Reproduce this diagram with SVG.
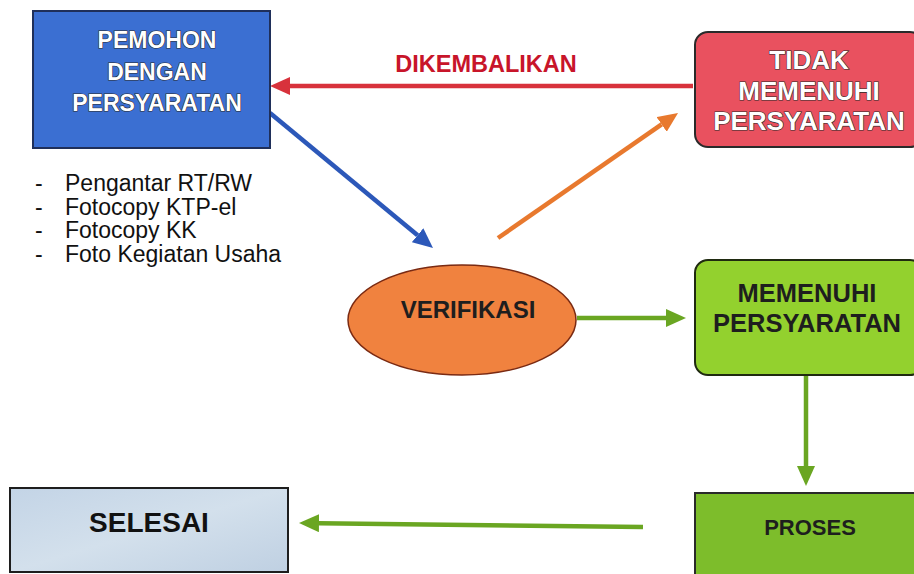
<svg xmlns="http://www.w3.org/2000/svg" width="914" height="574" viewBox="0 0 914 574">
  <style>
    .lbl { font-family: "Liberation Sans", Arial, sans-serif; font-weight: bold; text-anchor: middle; }
    .wt { fill: #ffffff; stroke: #2a2a2a; stroke-width: 1.2; paint-order: stroke; }
    .dk { fill: #1e1e1e; }
    .list { font-family: "Liberation Sans", Arial, sans-serif; font-size: 23px; fill: #111; }
    .conn { fill: none; stroke-width: 4.5; stroke-linecap: butt; }
  </style>
  <defs>
    <linearGradient id="gSel" x1="0" y1="0" x2="1" y2="1">
      <stop offset="0" stop-color="#c3d4e6"/>
      <stop offset="0.5" stop-color="#d3e0ec"/>
      <stop offset="1" stop-color="#bfd0e2"/>
    </linearGradient>
    <marker id="mRed" markerUnits="userSpaceOnUse" markerWidth="21" markerHeight="18" refX="0" refY="9" orient="auto">
      <path d="M0,0 L20,9 L0,18 z" fill="#d8323c"/>
    </marker>
    <marker id="mBlue" markerUnits="userSpaceOnUse" markerWidth="21" markerHeight="18" refX="0" refY="9" orient="auto">
      <path d="M0,0 L20,9 L0,18 z" fill="#2c58b9"/>
    </marker>
    <marker id="mOrange" markerUnits="userSpaceOnUse" markerWidth="21" markerHeight="18" refX="0" refY="9" orient="auto">
      <path d="M0,0 L20,9 L0,18 z" fill="#e8792e"/>
    </marker>
    <marker id="mGreen" markerUnits="userSpaceOnUse" markerWidth="21" markerHeight="18" refX="0" refY="9" orient="auto">
      <path d="M0,0 L20,9 L0,18 z" fill="#6aa622"/>
    </marker>
  </defs>
  <rect x="0" y="0" width="914" height="574" fill="#ffffff"/>

  <g id="connectors">
    <line class="conn" x1="693" y1="86" x2="290" y2="86" stroke="#d8323c" marker-end="url(#mRed)"/>
    <line class="conn" x1="270" y1="113" x2="417.6" y2="235.2" stroke="#2c58b9" marker-end="url(#mBlue)"/>
    <line class="conn" x1="498" y1="238" x2="661.6" y2="124.4" stroke="#e8792e" stroke-linecap="round" marker-end="url(#mOrange)"/>
    <line class="conn" x1="577" y1="318" x2="666" y2="318" stroke="#6aa622" marker-end="url(#mGreen)"/>
    <line class="conn" x1="806" y1="375" x2="806" y2="466" stroke="#6aa622" marker-end="url(#mGreen)"/>
    <line class="conn" x1="643" y1="527" x2="319" y2="523.2" stroke="#6aa622" marker-end="url(#mGreen)"/>
  </g>

  <g id="label-dikembalikan">
    <text class="lbl" x="486" y="72" font-size="23.5" fill="#c8152a">DIKEMBALIKAN</text>
  </g>

  <g id="pemohon">
    <rect x="33" y="11" width="237" height="137" fill="#3b6fd2" stroke="#1f2f5a" stroke-width="2"/>
    <text class="lbl wt" font-size="23"><tspan x="157" y="48">PEMOHON</tspan><tspan x="157" y="80">DENGAN</tspan><tspan x="157" y="111">PERSYARATAN</tspan></text>
  </g>

  <g id="persyaratan-list">
    <text class="list" x="35" y="191">-</text>
    <text class="list" x="65" y="191">Pengantar RT/RW</text>
    <text class="list" x="35" y="214.5">-</text>
    <text class="list" x="65" y="214.5">Fotocopy KTP-el</text>
    <text class="list" x="35" y="238">-</text>
    <text class="list" x="65" y="238">Fotocopy KK</text>
    <text class="list" x="35" y="262">-</text>
    <text class="list" x="65" y="262">Foto Kegiatan Usaha</text>
  </g>

  <g id="tidak-memenuhi">
    <rect x="695" y="32" width="228" height="115" rx="13" fill="#e9515f" stroke="#2a2a2a" stroke-width="2"/>
    <text class="lbl wt" font-size="26"><tspan x="809" y="69">TIDAK</tspan><tspan x="809" y="100">MEMENUHI</tspan><tspan x="809" y="130">PERSYARATAN</tspan></text>
  </g>

  <g id="verifikasi">
    <ellipse cx="462" cy="320" rx="114" ry="55" fill="#f0823f" stroke="#7a2a12" stroke-width="1.5"/>
    <text class="lbl dk" x="468" y="318" font-size="24">VERIFIKASI</text>
  </g>

  <g id="memenuhi">
    <rect x="695" y="260" width="228" height="115" rx="13" fill="#93d12e" stroke="#1f2a10" stroke-width="2"/>
    <text class="lbl dk" font-size="25.5"><tspan x="807" y="302">MEMENUHI</tspan><tspan x="807" y="332">PERSYARATAN</tspan></text>
  </g>

  <g id="proses">
    <rect x="695" y="493" width="230" height="90" fill="#7dbd2b" stroke="#2a2a2a" stroke-width="2"/>
    <text class="lbl dk" x="810" y="535" font-size="22">PROSES</text>
  </g>

  <g id="selesai">
    <rect x="10" y="488" width="278" height="84" fill="url(#gSel)" stroke="#1e1e1e" stroke-width="2"/>
    <text class="lbl" x="149" y="532" font-size="28" fill="#111">SELESAI</text>
  </g>
</svg>
